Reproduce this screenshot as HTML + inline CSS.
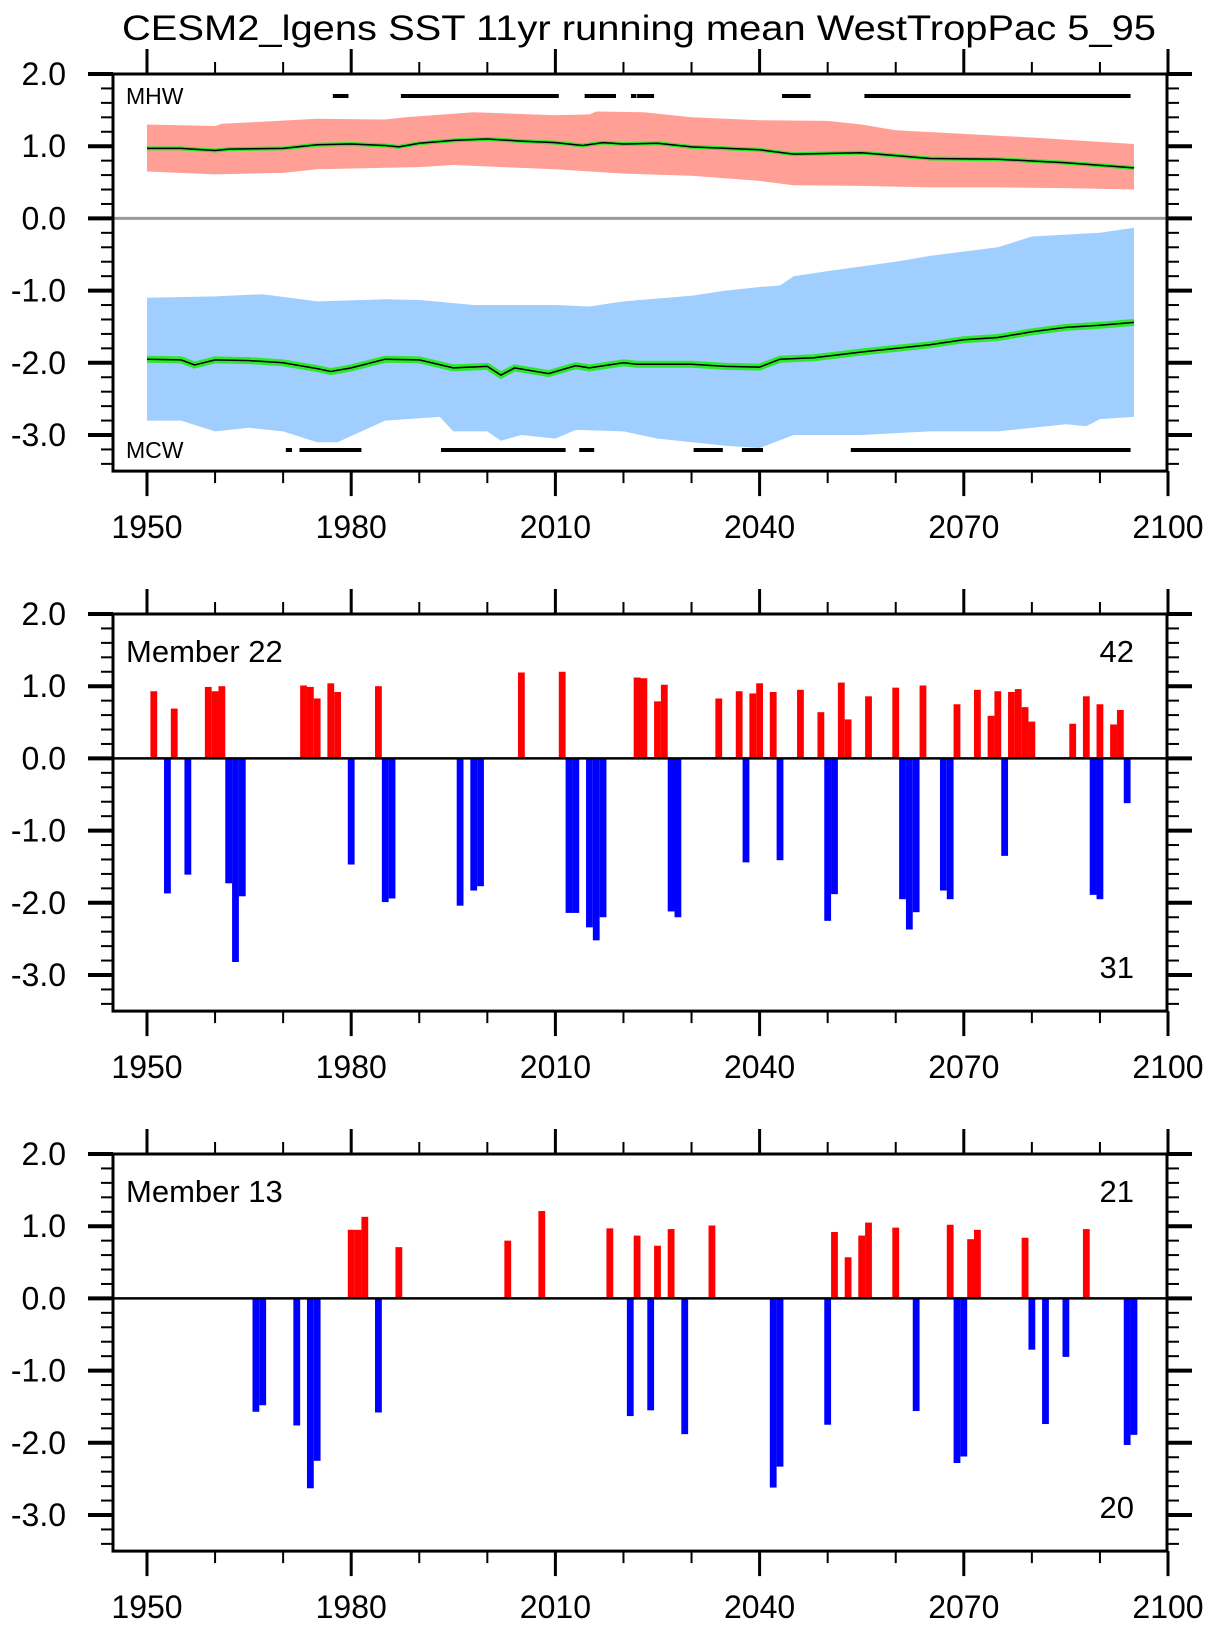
<!DOCTYPE html>
<html><head><meta charset="utf-8"><style>
html,body{margin:0;padding:0;background:#fff;}
svg{display:block;font-family:"Liberation Sans",sans-serif;}
</style></head><body>
<svg id="chart" width="1208" height="1630" viewBox="0 0 1208 1630" xmlns="http://www.w3.org/2000/svg">
<text x="639" y="40" font-size="35" text-anchor="middle" textLength="1034" lengthAdjust="spacingAndGlyphs">CESM2_lgens SST 11yr running mean WestTropPac 5_95</text>
</svg>
<script>
// ---- Panel 1 data ----
const warmMeanYears = [1950,1955,1960,1962,1970,1975,1980,1985,1987,1990,1995,2000,2005,2010,2014,2017,2020,2025,2030,2040,2045,2055,2065,2075,2085,2095];
const warmMeanVals  = [0.97,0.97,0.94,0.96,0.97,1.02,1.03,1.01,0.99,1.04,1.08,1.10,1.07,1.05,1.01,1.05,1.03,1.04,0.99,0.95,0.89,0.91,0.83,0.82,0.77,0.70];
const warmUpYears = [1950,1960,1961,1975,1985,1988,1998,2010,2015,2016,2023,2030,2040,2050,2055,2060,2070,2080,2090,2095];
const warmUpVals  = [1.30,1.28,1.31,1.38,1.37,1.40,1.47,1.43,1.44,1.48,1.47,1.40,1.36,1.35,1.30,1.22,1.17,1.12,1.06,1.03];
const warmLoYears = [1950,1960,1970,1975,1990,1995,2005,2010,2020,2030,2040,2045,2055,2065,2075,2085,2095];
const warmLoVals  = [0.65,0.61,0.63,0.68,0.71,0.74,0.70,0.68,0.62,0.59,0.52,0.46,0.45,0.43,0.43,0.42,0.40];
const coldMeanYears = [1950,1955,1957,1960,1965,1970,1975,1977,1980,1985,1990,1995,2000,2002,2004,2009,2013,2015,2020,2022,2027,2030,2035,2040,2043,2048,2055,2065,2070,2075,2080,2085,2090,2095];
const coldMeanVals  = [-1.95,-1.96,-2.03,-1.96,-1.97,-2.00,-2.08,-2.12,-2.07,-1.95,-1.96,-2.07,-2.05,-2.17,-2.07,-2.15,-2.04,-2.07,-2.00,-2.02,-2.02,-2.02,-2.05,-2.06,-1.95,-1.93,-1.85,-1.75,-1.68,-1.65,-1.57,-1.51,-1.48,-1.44];
const coldUpYears = [1950,1960,1967,1975,1985,1990,1998,2005,2010,2015,2020,2030,2035,2040,2043,2045,2050,2060,2065,2075,2080,2090,2095];
const coldUpVals  = [-1.10,-1.08,-1.05,-1.15,-1.12,-1.13,-1.20,-1.20,-1.20,-1.22,-1.15,-1.07,-1.00,-0.95,-0.93,-0.80,-0.73,-0.60,-0.52,-0.40,-0.25,-0.20,-0.13];
const coldLoYears = [1950,1955,1960,1965,1970,1975,1978,1985,1993,1995,2000,2002,2005,2010,2013,2020,2025,2035,2040,2045,2055,2065,2075,2085,2088,2090,2095];
const coldLoVals  = [-2.80,-2.80,-2.95,-2.90,-2.95,-3.10,-3.10,-2.80,-2.75,-2.95,-2.95,-3.08,-3.00,-3.05,-2.93,-2.95,-3.05,-3.15,-3.18,-3.00,-3.00,-2.95,-2.95,-2.85,-2.88,-2.78,-2.75];
const mhwStart = [1977.3,1987.3,2014.3,2021.1,2022.0,2043.3,2055.4];
const mhwEnd   = [1979.6,2010.5,2018.9,2021.9,2024.5,2047.5,2094.5];
const mcwStart = [1970.4,1972.4,1993.2,2013.5,2030.3,2037.4,2053.4];
const mcwEnd   = [1971.3,1981.5,2011.5,2015.7,2034.6,2040.5,2094.5];
// ---- Panel 2 data (Member 22) ----
const m22PosYears = [1951,1954,1959,1960,1961,1973,1974,1975,1977,1978,1984,2005,2011,2022,2023,2025,2026,2034,2037,2039,2040,2042,2046,2049,2052,2053,2056,2060,2064,2069,2072,2074,2075,2077,2078,2079,2080,2086,2088,2090,2092,2093];
const m22PosVals  = [0.93,0.69,0.99,0.93,1.00,1.01,0.99,0.83,1.04,0.92,1.00,1.19,1.20,1.12,1.11,0.79,1.02,0.83,0.93,0.90,1.04,0.92,0.95,0.64,1.05,0.54,0.86,0.98,1.01,0.75,0.95,0.59,0.93,0.92,0.96,0.71,0.51,0.48,0.86,0.75,0.47,0.67];
const m22NegYears = [1953,1956,1962,1963,1964,1980,1985,1986,1996,1998,1999,2012,2013,2015,2016,2017,2027,2028,2038,2043,2050,2051,2061,2062,2063,2067,2068,2076,2089,2090,2094];
const m22NegVals  = [-1.87,-1.61,-1.73,-2.82,-1.91,-1.47,-1.99,-1.94,-2.04,-1.83,-1.77,-2.14,-2.14,-2.34,-2.52,-2.20,-2.12,-2.20,-1.44,-1.41,-2.25,-1.88,-1.95,-2.37,-2.13,-1.83,-1.95,-1.35,-1.89,-1.95,-0.62];
// ---- Panel 3 data (Member 13) ----
const m13PosYears = [1980,1981,1982,1987,2003,2008,2018,2022,2025,2027,2033,2051,2053,2055,2056,2060,2068,2071,2072,2079,2088];
const m13PosVals  = [0.95,0.95,1.13,0.71,0.80,1.21,0.97,0.87,0.73,0.96,1.01,0.92,0.57,0.87,1.05,0.98,1.02,0.82,0.95,0.84,0.96];
const m13NegYears = [1966,1967,1972,1974,1975,1984,2021,2024,2029,2042,2043,2050,2063,2069,2070,2080,2082,2085,2094,2095];
const m13NegVals  = [-1.57,-1.48,-1.76,-2.63,-2.25,-1.58,-1.63,-1.55,-1.88,-2.62,-2.33,-1.75,-1.56,-2.28,-2.19,-0.71,-1.74,-0.81,-2.03,-1.89];
// ---- Axis labels ----
const xTickLabels = ["1950","1980","2010","2040","2070","2100"];
const yTickLabels = ["2.0","1.0","0.0","-1.0","-2.0","-3.0"];

const NS = "http://www.w3.org/2000/svg";
const svg = document.getElementById("chart");
const X0 = 113, X1 = 1167, YEAR0 = 1950, YEAR1 = 2100, XPY = (1168 - 147) / 150;
const PU = 72.2;
function xs(yr){ return 147 + (yr - YEAR0) * XPY; }
function mk(tag, attrs, parent){
  const e = document.createElementNS(NS, tag);
  for (const k in attrs) e.setAttribute(k, attrs[k]);
  (parent || svg).appendChild(e);
  return e;
}
function makeYs(top){ return v => top + (2.0 - v) * PU; }

function drawAxes(g, top, ys){
  const bot = ys(-3.5);
  for (let yr = 1950; yr <= 2100; yr += 10){
    const major = (yr - 1950) % 30 === 0;
    const L = major ? 25 : 12;
    const t1 = mk("line", {x1: xs(yr), x2: xs(yr), y1: top, y2: top - L, stroke: "#000", "stroke-width": major ? 3 : 2}, g);
    
    
    const t2 = mk("line", {x1: xs(yr), x2: xs(yr), y1: bot, y2: bot + L, stroke: "#000", "stroke-width": major ? 3 : 2}, g);
    
    
  }
  xTickLabels.forEach((lab, i) => {
    const yr = 1950 + i * 30;
    const t = mk("text", {x: xs(yr), y: bot + 67, "font-size": 32, "text-anchor": "middle"}, g);
    
    
    t.textContent = lab;
  });
  for (let k = 0; k <= 27; k++){
    const v = 2.0 - k * 0.2;
    const major = k % 5 === 0;
    const L = major ? 25 : 12;
    const y = ys(v);
    const a = mk("line", {x1: X0, x2: X0 - L, y1: y, y2: y, stroke: "#000", "stroke-width": major ? 4 : 2}, g);
    
    
    const b = mk("line", {x1: X1, x2: X1 + L, y1: y, y2: y, stroke: "#000", "stroke-width": major ? 4 : 2}, g);
    
    
  }
  yTickLabels.forEach((lab, i) => {
    const t = mk("text", {x: 66, y: ys(2 - i) + 11, "font-size": 32, "text-anchor": "end"}, g);
    
    
    t.textContent = lab;
  });
}
function drawFrame(g, top, ys){
  const f = mk("rect", {x: X0, y: top, width: X1 - X0, height: ys(-3.5) - top, fill: "none", stroke: "#000", "stroke-width": 3}, g);
  
  
}
function bandPath(upY, upV, loY, loV, ys){
  let d = "";
  upY.forEach((yr, i) => { d += (i ? "L" : "M") + xs(yr).toFixed(1) + "," + ys(upV[i]).toFixed(1); });
  for (let i = loY.length - 1; i >= 0; i--) d += "L" + xs(loY[i]).toFixed(1) + "," + ys(loV[i]).toFixed(1);
  return d + "Z";
}
function linePath(yrs, vals, ys){
  return yrs.map((yr, i) => (i ? "L" : "M") + xs(yr).toFixed(1) + "," + ys(vals[i]).toFixed(1)).join("");
}

// ===== Panel 1 =====
(function(){
  const top = 74, ys = makeYs(top);
  const g = mk("g", {});
  
  
  const wb = mk("path", {d: bandPath(warmUpYears, warmUpVals, warmLoYears, warmLoVals, ys), fill: "#FF9F96"}, g);
  
  
  const cb = mk("path", {d: bandPath(coldUpYears, coldUpVals, coldLoYears, coldLoVals, ys), fill: "#A0CFFF"}, g);
  
  
  const z = mk("line", {x1: X0, x2: X1, y1: ys(0), y2: ys(0), stroke: "#999", "stroke-width": 3}, g);
  
  
  const wg = mk("path", {d: linePath(warmMeanYears, warmMeanVals, ys), fill: "none", stroke: "#2ee82e", "stroke-width": 4}, g);
  
  
  const wl = mk("path", {d: linePath(warmMeanYears, warmMeanVals, ys), fill: "none", stroke: "#000", "stroke-width": 1.5}, g);
  
  
  const cg = mk("path", {d: linePath(coldMeanYears, coldMeanVals, ys), fill: "none", stroke: "#2ee82e", "stroke-width": 7}, g);
  
  
  const cl = mk("path", {d: linePath(coldMeanYears, coldMeanVals, ys), fill: "none", stroke: "#000", "stroke-width": 1.5}, g);
  
  
  mhwStart.forEach((s, i) => {
    const l = mk("line", {x1: xs(s), x2: xs(mhwEnd[i]), y1: 96, y2: 96, stroke: "#000", "stroke-width": 4}, g);
    
    
  });
  mcwStart.forEach((s, i) => {
    const l = mk("line", {x1: xs(s), x2: xs(mcwEnd[i]), y1: 450, y2: 450, stroke: "#000", "stroke-width": 4}, g);
    
    
  });
  const t1 = mk("text", {x: 126, y: 104, "font-size": 23}, g);
  
  
  t1.textContent = "MHW";
  const t2 = mk("text", {x: 126, y: 458, "font-size": 23}, g);
  
  
  t2.textContent = "MCW";
  drawFrame(g, top, ys);
  drawAxes(g, top, ys);
})();

// ===== Bar panels =====
function barPanel(top, name, label, posY, posV, negY, negV){
  const ys = makeYs(top);
  const g = mk("g", {});
  
  
  const w = XPY;
  posY.forEach((yr, i) => {
    const r = mk("rect", {x: xs(yr) - w / 2, y: ys(posV[i]), width: w, height: ys(0) - ys(posV[i]), fill: "#FF0000"}, g);
    
    
  });
  negY.forEach((yr, i) => {
    const r = mk("rect", {x: xs(yr) - w / 2, y: ys(0), width: w, height: ys(negV[i]) - ys(0), fill: "#0000FF"}, g);
    
    
  });
  const z = mk("line", {x1: X0, x2: X1, y1: ys(0), y2: ys(0), stroke: "#000", "stroke-width": 2.5}, g);
  
  
  const t = mk("text", {x: 126, y: top + 48, "font-size": 31}, g);
  
  
  t.textContent = label;
  const c1 = mk("text", {x: 1134, y: top + 48, "font-size": 31, "text-anchor": "end"}, g);
  
  
  c1.textContent = String(posY.length);
  const c2 = mk("text", {x: 1134, y: ys(-3.0) + 3, "font-size": 31, "text-anchor": "end"}, g);
  
  
  c2.textContent = String(negY.length);
  drawFrame(g, top, ys);
  drawAxes(g, top, ys);
}
barPanel(614, "panel-member-22", "Member 22", m22PosYears, m22PosVals, m22NegYears, m22NegVals);
barPanel(1154, "panel-member-13", "Member 13", m13PosYears, m13PosVals, m13NegYears, m13NegVals);
</script>
</body></html>
